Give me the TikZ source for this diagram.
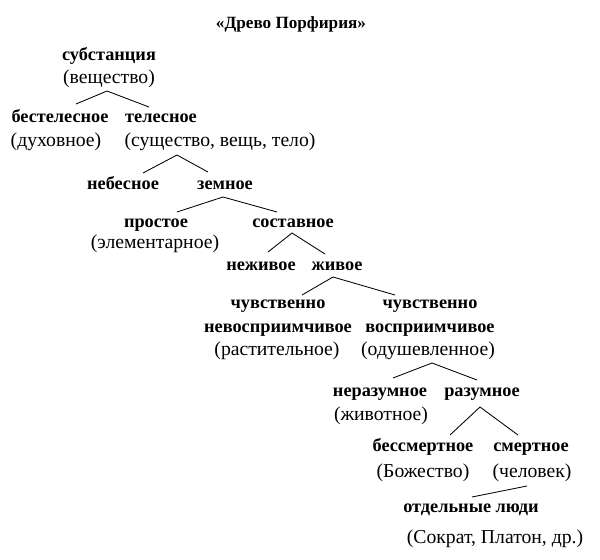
\documentclass[tikz,border=0pt]{standalone}
\usepackage{fontspec}
\setmainfont{Liberation Serif}
\usetikzlibrary{calc}

\begin{document}
\begin{tikzpicture}[x=0.025cm, y=-0.025cm,
    concept/.style={font=\fontsize{13}{15}\selectfont\bfseries, inner sep=0pt, anchor=base},
    note/.style={font=\fontsize{14}{16}\selectfont, inner sep=0pt, anchor=base},
    branch/.style={line width=0.6pt}]
		\useasboundingbox (0, 0) rectangle (600, 560);

		% titre
		\node[concept, font=\fontsize{12.2}{14}\selectfont\bfseries] (title) at (291, 28) {«Древо Порфирия»};

		% substance
		\node[concept] (subst) at (109, 60) {субстанция};
		\node[note] (vesch) at (109, 83) {(вещество)};

		% premier niveau
		\node[concept] (bestel) at (60, 122) {бестелесное};
		\node[note] (duh) at (56, 146) {(духовное)};
		\node[concept] (tel) at (161, 122) {телесное};
		\node[note] (sushch) at (220, 146) {(существо, вещь, тело)};

		% deuxieme niveau
		\node[concept] (nebes) at (123, 189) {небесное};
		\node[concept] (zemn) at (225, 189) {земное};

		% troisieme niveau
		\node[concept] (prost) at (156, 227) {простое};
		\node[note] (elem) at (155, 248) {(элементарное)};
		\node[concept] (sostav) at (293, 227) {составное};

		% quatrieme niveau
		\node[concept] (nezhiv) at (261, 270) {неживое};
		\node[concept] (zhiv) at (337, 270) {живое};

		% cinquieme niveau
		\node[concept] (chuvL) at (278, 308) {чувственно};
		\node[concept] (nevospr) at (278, 332) {невосприимчивое};
		\node[note] (rastit) at (277, 355) {(растительное)};
		\node[concept] (chuvR) at (430, 308) {чувственно};
		\node[concept] (vospr) at (430, 332) {восприимчивое};
		\node[note] (odush) at (428, 355) {(одушевленное)};

		% sixieme niveau
		\node[concept] (nerazum) at (380, 396) {неразумное};
		\node[note] (zhivotn) at (381, 420) {(животное)};
		\node[concept] (razum) at (482, 396) {разумное};

		% septieme niveau
		\node[concept] (bessm) at (423, 451) {бессмертное};
		\node[note] (bozh) at (423, 477) {(Божество)};
		\node[concept] (smert) at (531, 451) {смертное};
		\node[note] (chelov) at (532, 477) {(человек)};

		% individus
		\node[concept] (lyudi) at (471, 512) {отдельные люди};
		\node[note] (sokrat) at (495, 543) {(Сократ, Платон, др.)};

		% branches
		\draw[branch] ($(bestel.base)+(16,-18)$) -- ($(vesch.base)+(-2,8)$) -- ($(tel.base)+(-12,-15)$);
		\draw[branch] ($(nebes.base)+(20,-16)$) -- ($(sushch.base)+(-43,9)$) -- ($(zemn.base)+(-17,-17)$);
		\draw[branch] ($(prost.base)+(21,-15)$) -- ($(zemn.base)+(-2,8)$) -- ($(sostav.base)+(-16,-15)$);
		\draw[branch] ($(nezhiv.base)+(7,-18)$) -- ($(sostav.base)+(-1,6)$) -- ($(zhiv.base)+(-12,-16)$);
		\draw[branch] ($(chuvL.base)+(24,-13)$) -- ($(zhiv.base)+(-4,7)$) -- ($(chuvR.base)+(-35,-13)$);
		\draw[branch] ($(nerazum.base)+(13,-18)$) -- ($(odush.base)+(4,8)$) -- ($(razum.base)+(-5,-16)$);
		\draw[branch] ($(bessm.base)+(27,-16)$) -- ($(razum.base)+(-2,11)$) -- ($(smert.base)+(-13,-16)$);
		\draw[branch] ($(lyudi.base)+(1,-15)$) -- ($(chelov.base)+(-5,9)$);

		\end{tikzpicture}
\end{document}
